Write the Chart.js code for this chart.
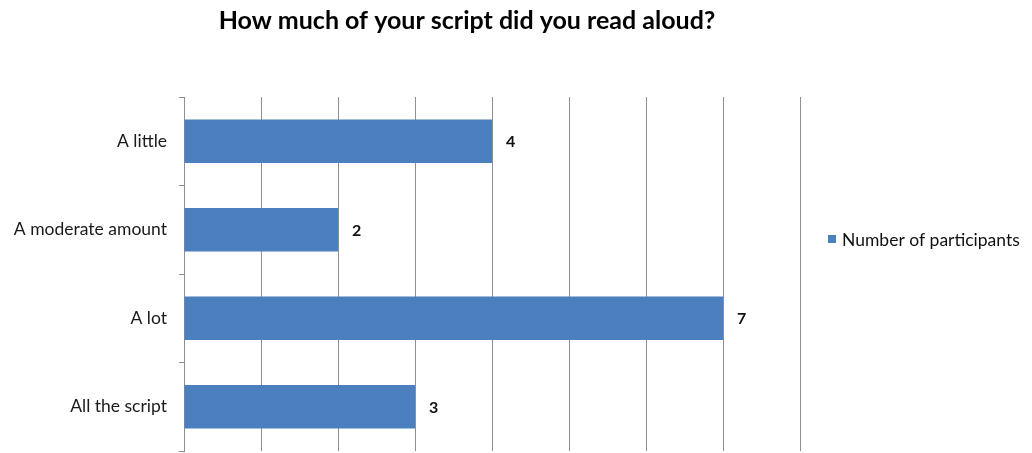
<!DOCTYPE html>
<html>
<head>
<meta charset="utf-8">
<script src="https://cdn.jsdelivr.net/npm/chart.js@4/dist/chart.umd.min.js"></script>
<style>
  html, body { margin: 0; padding: 0; background: #ffffff; }
  #wrap { width: 1032px; height: 453px; position: relative; }
</style>
</head>
<body>
<div id="wrap"><canvas id="chart"></canvas></div>
<script>
const chartTitle = 'How much of your script did you read aloud?';
const categories = ['A little', 'A moderate amount', 'A lot', 'All the script'];
const participants = [4, 2, 7, 3];
const seriesLabel = 'Number of participants';
const axisMin = 0;
const axisMax = 8;

const FONT = "Lato, 'Open Sans', 'Liberation Sans', sans-serif";
const BAR_BLUE = '#4b7fbe';
const GRID_GREY = '#8f8f8f';

// Title centred above the plot and category labels
const titlePlugin = {
  id: 'sideTitle',
  afterDraw(chart) {
    const ctx = chart.ctx;
    ctx.save();
    ctx.font = "bold 25px " + FONT;
    ctx.fillStyle = '#000000';
    ctx.textAlign = 'center';
    ctx.textBaseline = 'middle';
    ctx.fillText(chartTitle, 467, 21);
    ctx.restore();
  }
};

// Value printed just past the end of each bar
const valueLabels = {
  id: 'valueLabels',
  afterDatasetsDraw(chart) {
    const ctx = chart.ctx;
    const meta = chart.getDatasetMeta(0);
    ctx.save();
    ctx.font = "bold 16px " + FONT;
    ctx.fillStyle = '#111111';
    ctx.textAlign = 'left';
    ctx.textBaseline = 'middle';
    meta.data.forEach((bar, i) => {
      ctx.fillText(String(chart.data.datasets[0].data[i]), bar.x + 14, bar.y + 1);
    });
    ctx.restore();
  }
};

// Single-entry legend to the right of the plot
const sideLegend = {
  id: 'sideLegend',
  afterDraw(chart) {
    const ctx = chart.ctx;
    const area = chart.chartArea;
    const ds = chart.data.datasets[0];
    const cy = (area.top + area.bottom) / 2 - 35;
    const bx = area.right + 28;
    ctx.save();
    ctx.fillStyle = ds.backgroundColor;
    ctx.fillRect(bx, cy - 4, 8, 8);
    ctx.font = "17.5px " + FONT;
    ctx.fillStyle = '#111111';
    ctx.textAlign = 'left';
    ctx.textBaseline = 'middle';
    ctx.fillText(ds.label, bx + 14, cy + 1);
    ctx.restore();
  }
};

new Chart(document.getElementById('chart'), {
  type: 'bar',
  data: {
    labels: categories,
    datasets: [{
      label: seriesLabel,
      data: participants,
      backgroundColor: BAR_BLUE,
      borderWidth: 0,
      categoryPercentage: 1.0,
      barPercentage: 0.49
    }]
  },
  options: {
    indexAxis: 'y',
    responsive: true,
    maintainAspectRatio: false,
    animation: false,
    layout: { padding: { top: 97, bottom: 2, left: 0, right: 232 } },
    plugins: {
      title: { display: false },
      tooltip: { enabled: false },
      legend: { display: false }
    },
    scales: {
      x: {
        min: axisMin,
        max: axisMax,
        afterFit(scale) {
          scale.height = 0;
          scale.paddingLeft = 0;
          scale.paddingRight = 0;
        },
        ticks: { display: false, stepSize: 1 },
        grid: { color: GRID_GREY, lineWidth: 1, drawTicks: false },
        border: { display: false }
      },
      y: {
        afterFit(scale) {
          scale.width = 184;
          scale.paddingTop = 0;
          scale.paddingBottom = 0;
        },
        ticks: {
          color: '#1a1a1a',
          padding: 12,
          font: { family: FONT, size: 17.5 }
        },
        grid: {
          drawOnChartArea: false,
          drawTicks: true,
          tickLength: 5,
          color: GRID_GREY
        },
        border: { display: true, color: GRID_GREY, width: 1 }
      }
    }
  },
  plugins: [titlePlugin, valueLabels, sideLegend]
});
</script>
</body>
</html>
